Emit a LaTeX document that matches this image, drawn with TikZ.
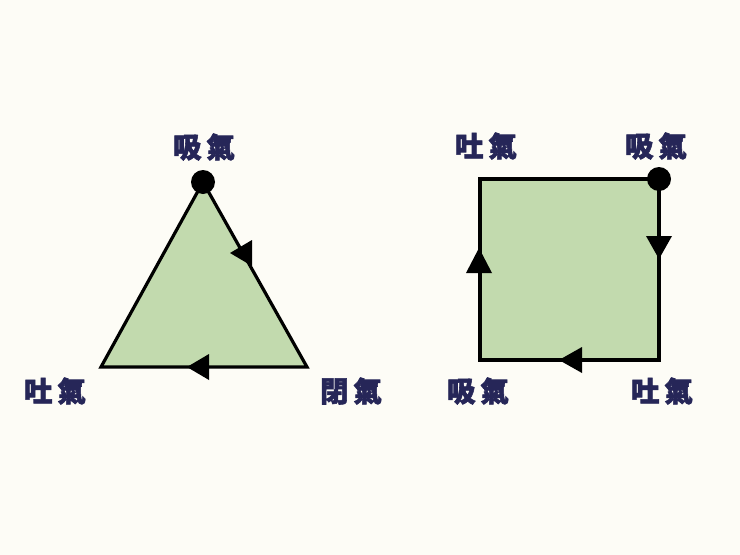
\documentclass[tikz,border=0pt]{standalone}
\usepackage{fontspec}
\newfontfamily\cjk[BoldFeatures={FakeBold=2}]{Noto Sans CJK TC}
\definecolor{bg}{RGB}{253,252,246}
\definecolor{fillgreen}{RGB}{194,218,174}
\definecolor{ink}{RGB}{38,38,88}
\tikzset{
  lbl/.style={font=\cjk\bfseries\fontsize{28.5}{30}\selectfont, text=ink, inner sep=0pt},
  shapeline/.style={draw=black, line width=3.2pt, fill=fillgreen, line join=miter},
  dotmark/.style={circle, fill=black, minimum size=24pt, inner sep=0pt},
}
\newcommand{\qi}[1]{#1\hspace{5pt}氣}
\begin{document}
\begin{tikzpicture}[x=1pt,y=-1pt]
\useasboundingbox[fill=bg] (0,0) rectangle (740,555);
% triangle
\coordinate (tA) at (203,182);
\coordinate (tL) at (101,367);
\coordinate (tR) at (307,367);
\draw[shapeline] (tA) -- (tR) -- (tL) -- cycle;
\node[dotmark] (tdot) at (tA) {};
\fill (230,253) -- (252,240) -- (252,266) -- cycle;
\fill (187,367) -- (209,354) -- (209,380) -- cycle;
\node[lbl] (t1) at (204,147) {\qi{吸}};
\node[lbl] (t2) at (55,391) {\qi{吐}};
\node[lbl] (t3) at (351,391) {\qi{閉}};
% square
\coordinate (sTL) at (480,179);
\coordinate (sTR) at (659,179);
\coordinate (sBR) at (659,360);
\coordinate (sBL) at (480,360);
\draw[shapeline] (sTL) -- (sTR) -- (sBR) -- (sBL) -- cycle;
\node[dotmark] (sdot) at (sTR) {};
\fill (659,259) -- (646,236) -- (672,236) -- cycle;
\fill (479,248) -- (466,273) -- (492,273) -- cycle;
\fill (559,360) -- (582,347) -- (582,373) -- cycle;
\node[lbl] (s1) at (486,146) {\qi{吐}};
\node[lbl] (s2) at (656,146) {\qi{吸}};
\node[lbl] (s3) at (478,391) {\qi{吸}};
\node[lbl] (s4) at (662,391) {\qi{吐}};
\end{tikzpicture}
\end{document}
